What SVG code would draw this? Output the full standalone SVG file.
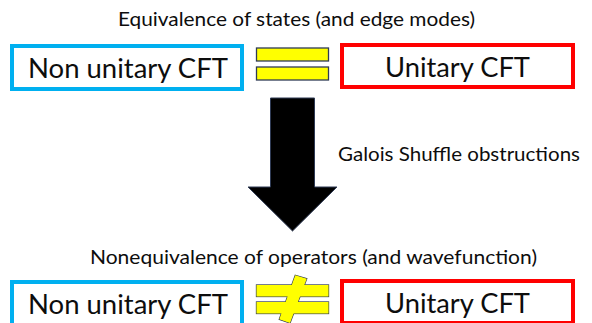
<svg xmlns="http://www.w3.org/2000/svg" width="592" height="323" viewBox="0 0 592 323">
<style>
  text { font-family: Lato, "Liberation Sans", Arial, sans-serif; fill: #0d0d0d; }
  .lbl { font-size: 20px; }
  .big { font-size: 27px; text-anchor: middle; }
  .nu { fill: #ffffff; stroke: #00b0f0; stroke-width: 4; }
  .u { fill: #ffffff; stroke: #ff0000; stroke-width: 4; }
  .bar { fill: #ffff00; stroke: #2f3b55; stroke-width: 1.3; }
  .barfill { fill: #ffff00; stroke: none; }
  .arrow { fill: #000000; stroke: #2f3b55; stroke-width: 1; }
</style>

<g id="title-top">
  <text class="lbl" x="118" y="26" textLength="357" lengthAdjust="spacingAndGlyphs">Equivalence of states (and edge modes)</text>
</g>

<g id="nonunitary-top">
  <rect class="nu" x="12" y="46" width="230" height="43"/>
  <text class="big" x="128" y="78" textLength="200" lengthAdjust="spacingAndGlyphs">Non unitary CFT</text>
</g>

<g id="equals">
  <rect class="bar" x="256.5" y="48" width="72" height="13"/>
  <rect class="bar" x="256.5" y="67" width="72" height="13"/>
</g>

<g id="unitary-top">
  <rect class="u" x="342" y="45" width="231" height="42"/>
  <text class="big" x="457.5" y="77" textLength="145" lengthAdjust="spacingAndGlyphs">Unitary CFT</text>
</g>

<g id="connectors">
  <path class="arrow" d="M270.5,98 L314.5,98 L314.5,187 L337,187 L292.5,231 L248,187 L270.5,187 Z"/>
  <text class="lbl" x="338" y="161" textLength="242" lengthAdjust="spacingAndGlyphs">Galois Shuffle obstructions</text>
</g>

<g id="title-bottom">
  <text class="lbl" x="90" y="264" textLength="447" lengthAdjust="spacingAndGlyphs">Nonequivalence of operators (and wavefunction)</text>
</g>

<g id="nonunitary-bottom">
  <rect class="nu" x="12" y="282" width="230" height="43"/>
  <text class="big" x="128" y="314" textLength="200" lengthAdjust="spacingAndGlyphs">Non unitary CFT</text>
</g>

<g id="not-equals">
  <rect class="bar" x="256.5" y="285" width="72" height="11.5" stroke-width="2"/>
  <rect class="bar" x="256.5" y="302" width="72" height="11.5" stroke-width="2"/>
  <polygon class="bar" points="295.3,275.3 306.7,278.7 290,323 279.3,319.3" stroke-width="2"/>
  <rect class="barfill" x="256.5" y="285" width="72" height="11.5"/>
  <rect class="barfill" x="256.5" y="302" width="72" height="11.5"/>
  <polygon class="barfill" points="295.3,275.3 306.7,278.7 290,323 279.3,319.3"/>
</g>

<g id="unitary-bottom">
  <rect class="u" x="342" y="281" width="231" height="42"/>
  <text class="big" x="457.5" y="313" textLength="145" lengthAdjust="spacingAndGlyphs">Unitary CFT</text>
</g>
</svg>
